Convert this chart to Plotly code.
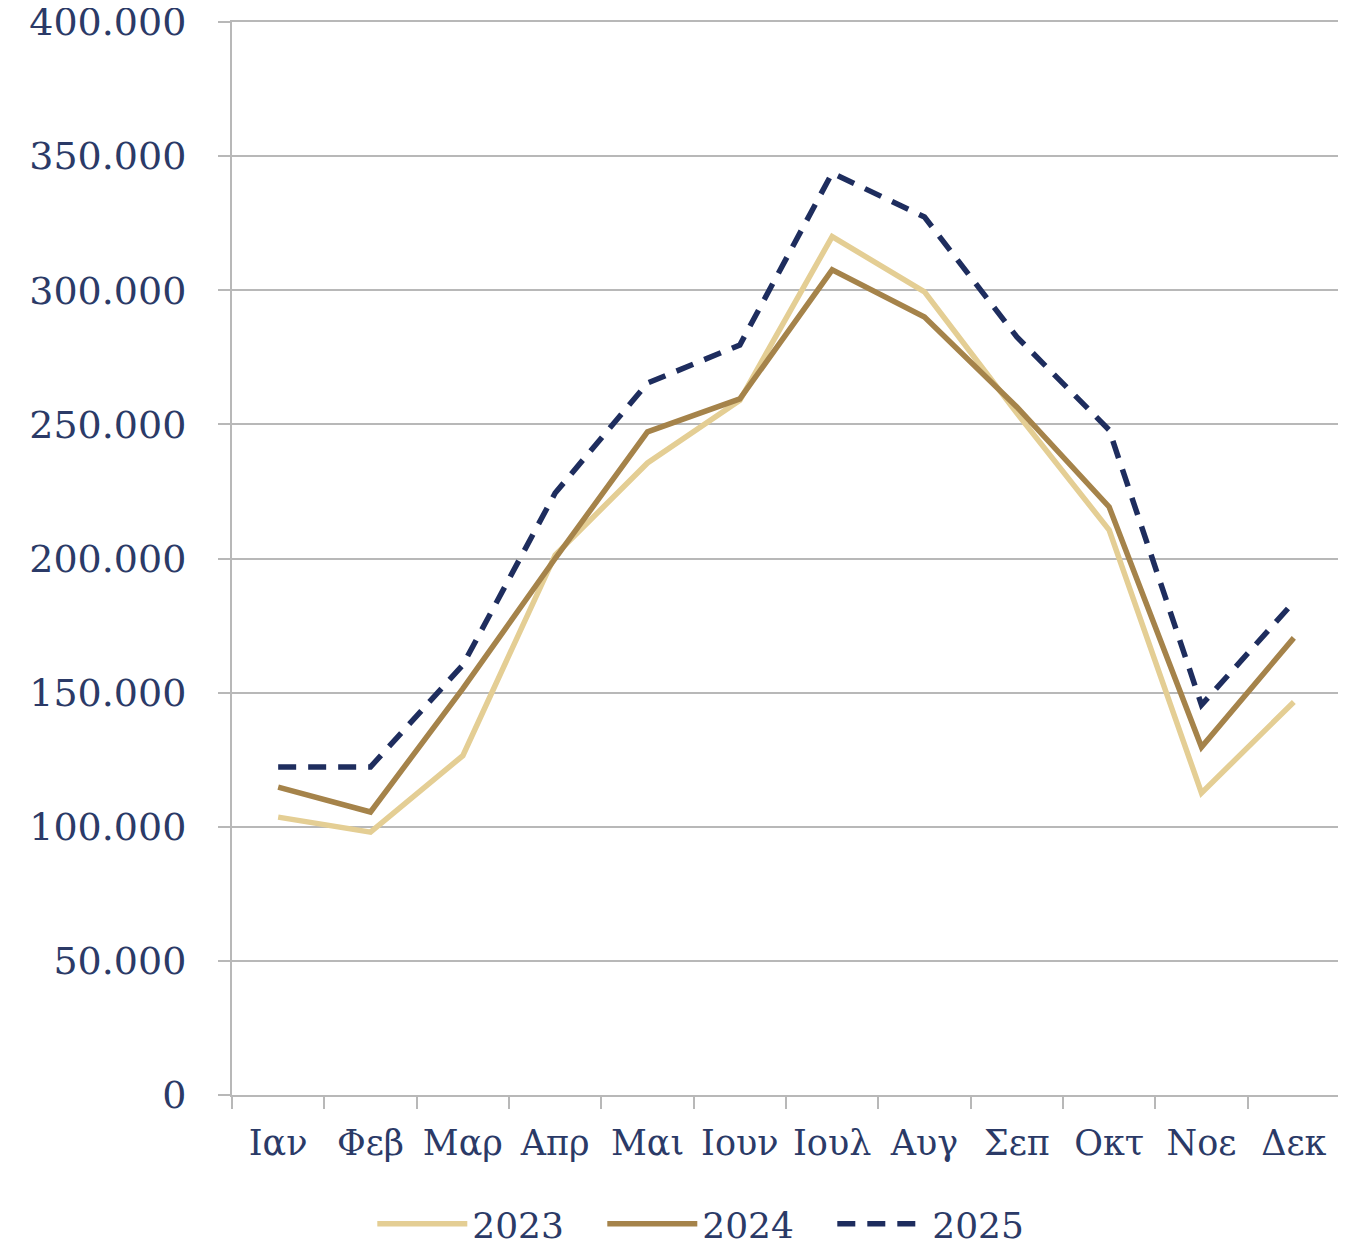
import plotly.graph_objects as go

# monthly values
months = ['Ιαν', 'Φεβ', 'Μαρ', 'Απρ', 'Μαι', 'Ιουν', 'Ιουλ', 'Αυγ', 'Σεπ', 'Οκτ', 'Νοε', 'Δεκ']
y2023 = [103600, 98000, 126500, 201300, 235600, 259000, 320000, 299400, 254200, 210600, 112600, 146500]
y2024 = [114800, 105500, 151500, 200000, 247200, 259500, 307600, 290000, 256500, 219200, 129700, 170400]
y2025 = [122300, 122300, 160300, 224400, 265400, 279600, 343700, 327300, 282600, 247900, 145400, 183800]

TEXT = '#2B3A67'
GRID = '#B8B8B8'
FONT = 'DejaVu Serif'

fig = go.Figure()

fig.add_trace(go.Scatter(x=months, y=y2023, name='2023', mode='lines',
                         line=dict(color='#E4CE94', width=5.5)))
fig.add_trace(go.Scatter(x=months, y=y2024, name='2024', mode='lines',
                         line=dict(color='#A5834A', width=5.5)))
fig.add_trace(go.Scatter(x=months, y=y2025, name='2025', mode='lines',
                         line=dict(color='#1E2D5E', width=5.5, dash='18px,12px')))

# mirror=True gives the top (400.000) grid line that plotly skips at the edge
fig.update_xaxes(range=[-0.5, 11.5], automargin=False, mirror=True,
                 showgrid=False, showline=True, linecolor=GRID, linewidth=2,
                 ticks='outside', tickson='boundaries', ticklen=12, tickwidth=2,
                 tickcolor=GRID, ticklabelstandoff=16, tickangle=0,
                 tickfont=dict(family=FONT, size=35, color=TEXT))

fig.update_yaxes(range=[0, 400000], dtick=50000, tickformat=',d', automargin=False,
                 showgrid=True, gridcolor=GRID, gridwidth=2,
                 showline=True, linecolor=GRID, linewidth=2, zeroline=False,
                 ticks='outside', ticklen=12, tickwidth=2, tickcolor=GRID,
                 ticklabelstandoff=24, ticklabeloverflow='allow',
                 tickfont=dict(family=FONT, size=38, color=TEXT))

# page body has an 8px margin, so the figure is sized to fit the window
fig.update_layout(
    width=1338,
    height=1238,
    separators=',.',
    margin=dict(l=224, r=6, t=14, b=151, pad=0, autoexpand=False),
    paper_bgcolor='white',
    plot_bgcolor='white',
    font=dict(family=FONT, color=TEXT),
    legend=dict(orientation='h', x=0.438, xanchor='center',
                y=-0.12, yanchor='middle', entrywidth=125,
                font=dict(family=FONT, size=36, color=TEXT), itemwidth=90,
                tracegroupgap=0, bgcolor='rgba(0,0,0,0)'),
)

fig.write_html("out.html")
